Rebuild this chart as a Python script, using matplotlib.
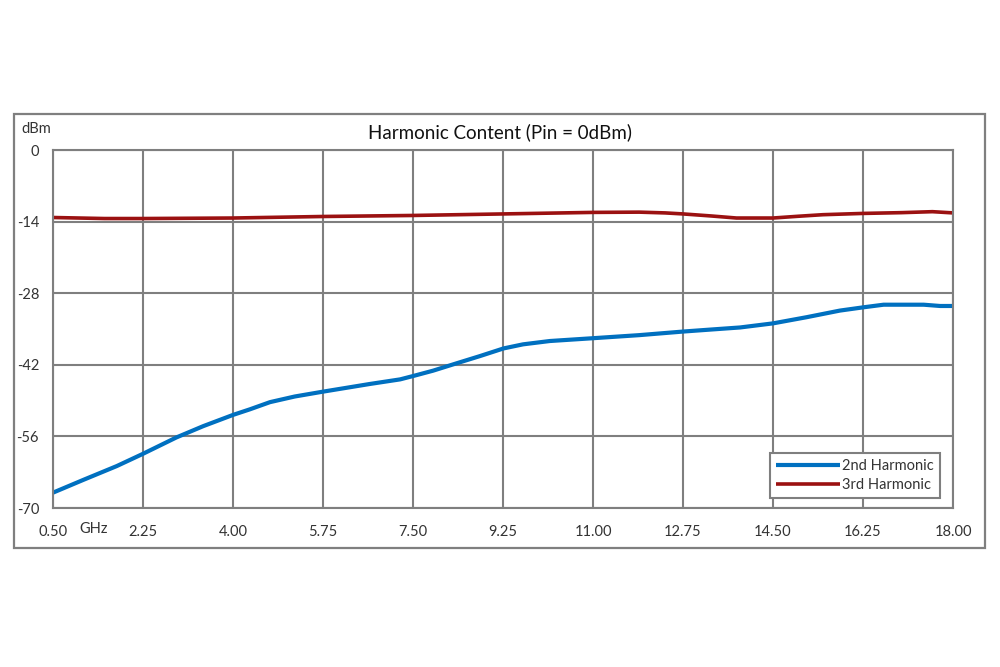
import numpy as np
import matplotlib
matplotlib.use("Agg")
import matplotlib.pyplot as plt
from matplotlib.patches import Rectangle

plt.rcParams['font.family'] = ['Lato', 'DejaVu Sans']

# 2nd harmonic (GHz, dBm)
freq_2nd = [0.5, 1.09, 1.74, 2.24, 2.9, 3.42, 4.0, 4.33, 4.72, 5.2, 5.75, 6.66, 7.25, 7.5,
            7.89, 8.35, 8.8, 9.26, 9.64, 10.16, 11.0, 11.9, 12.75, 13.3, 13.86, 14.5,
            15.15, 15.8, 16.25, 16.65, 17.43, 17.75, 18.0]
level_2nd = [-67.0, -64.5, -61.8, -59.45, -56.2, -54.0, -51.8, -50.7, -49.3, -48.2, -47.25,
             -45.75, -44.85, -44.2, -43.15, -41.7, -40.3, -38.8, -38.0, -37.35, -36.8,
             -36.2, -35.5, -35.1, -34.7, -33.9, -32.7, -31.4, -30.77, -30.25, -30.25,
             -30.5, -30.5]

# 3rd harmonic
freq_3rd = [0.5, 1.5, 2.25, 4.0, 5.75, 7.5, 9.25, 11.0, 11.9, 12.4, 12.75, 13.3, 13.79,
            14.5, 15.0, 15.47, 16.25, 17.0, 17.6, 18.0]
level_3rd = [-13.2, -13.4, -13.4, -13.3, -13.0, -12.8, -12.5, -12.2, -12.15, -12.3, -12.5,
             -12.9, -13.3, -13.3, -12.95, -12.65, -12.4, -12.25, -12.06, -12.3]

x_ticks = [0.5, 2.25, 4.0, 5.75, 7.5, 9.25, 11.0, 12.75, 14.5, 16.25, 18.0]
y_ticks = [0, -14, -28, -42, -56, -70]

grid_col = '#7f7f7f'

fig = plt.figure(figsize=(10, 6.67), dpi=100)
ax = fig.add_axes([0.053, 1 - 508 / 667, 0.9, 358 / 667])

# outer frame like the spreadsheet chart area
fig.patches.append(Rectangle((14 / 1000, 1 - 548 / 667), 971 / 1000, 434 / 667,
                             transform=fig.transFigure, fill=False,
                             edgecolor=grid_col, linewidth=1.6))

ax.plot(freq_2nd, level_2nd, color='#0070C0', lw=3.0, label='2nd Harmonic',
        solid_capstyle='butt', solid_joinstyle='round')
ax.plot(freq_3rd, level_3rd, color='#9B1111', lw=2.6, label='3rd Harmonic',
        solid_capstyle='butt', solid_joinstyle='round')

ax.set_xlim(0.5, 18)
ax.set_ylim(-70, 0)
ax.set_xticks(x_ticks)
ax.set_xticklabels([f'{v:.2f}' for v in x_ticks])
ax.set_yticks(y_ticks)
ax.set_yticklabels([str(v) for v in y_ticks])
ax.tick_params(length=0, labelsize=10.5, colors='#333333', pad=12)
ax.tick_params(axis='y', pad=10)
ax.grid(True, color=grid_col, lw=1.5)
ax.set_axisbelow(True)
for s in ax.spines.values():
    s.set_color(grid_col)
    s.set_linewidth(1.5)

fig.text(0.5, 1 - 132 / 667, 'Harmonic Content (Pin = 0dBm)', ha='center', va='center',
         fontsize=13.5, color='#111111')
fig.text(36 / 1000, 1 - 129 / 667, 'dBm', ha='center', va='center', fontsize=10.5,
         color='#333333')
fig.text(94 / 1000, 1 - 529 / 667, 'GHz', ha='center', va='center', fontsize=10.5,
         color='#333333')

leg = ax.legend(loc='lower right', bbox_to_anchor=(0.9856, 0.028), borderaxespad=0,
                fancybox=False, framealpha=1, edgecolor=grid_col, fontsize=10.5,
                handlelength=4.4, handletextpad=0.15, labelspacing=0.35,
                borderpad=0.42)
leg.get_frame().set_linewidth(1.5)
for t in leg.get_texts():
    t.set_color('#333333')

fig.savefig('out.png', dpi=100)
